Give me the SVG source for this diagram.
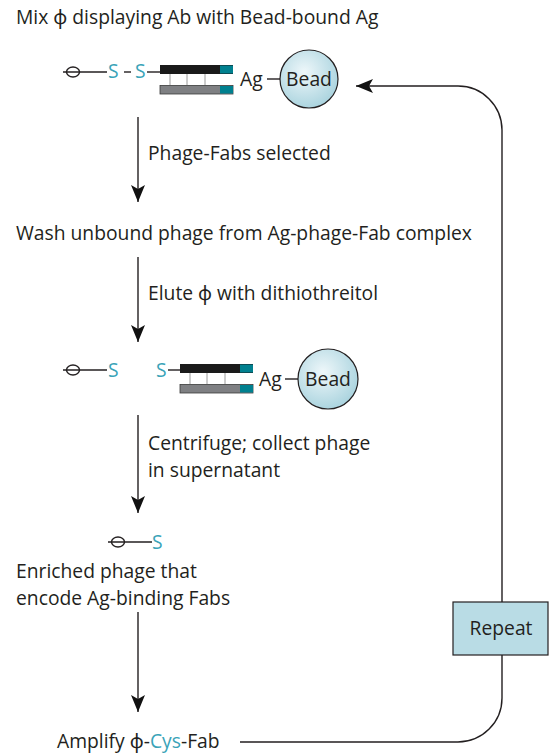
<svg xmlns="http://www.w3.org/2000/svg" width="551" height="754" viewBox="0 0 551 754">
  <style>
    .t { font-family: "Open Sans", "Noto Sans", "Liberation Sans", sans-serif; font-size: 19.3px; fill: #231f20; }
    .s { font-family: "Open Sans", "Noto Sans", "Liberation Sans", sans-serif; font-size: 19.3px; fill: #3aa3b8; }
    .ln { stroke: #231f20; stroke-width: 1.4; fill: none; }
    .hc { fill: #1a1a1a; }
    .lc { fill: #7f8083; stroke: #3a3a3a; stroke-width: 0.8; }
    .tip { fill: #00808f; }
    .tick { stroke: #9a9a9a; stroke-width: 1; }
    .bead { fill: url(#beadFill); stroke: #231f20; stroke-width: 1.2; }
  </style>
  <defs>
    <radialGradient id="beadFill" cx="0.42" cy="0.38" r="0.65">
      <stop offset="0" stop-color="#eef7fa"/>
      <stop offset="1" stop-color="#a9d3de"/>
    </radialGradient>
    <marker id="arrow" markerUnits="userSpaceOnUse" markerWidth="18" markerHeight="16" refX="17" refY="7" orient="auto" viewBox="0 0 18 14">
      <path d="M0,0 L17,7 L0,14 L4,7 Z" fill="#111"/>
    </marker>
    <!-- phage: filament with capsid ellipse -->
    <g id="phage">
      <line x1="0" y1="0" x2="44" y2="0" class="ln"/>
      <ellipse cx="10" cy="0" rx="6.5" ry="5" class="ln" stroke-width="1.6"/>
    </g>
    <!-- Fab: heavy and light chains with interchain ticks -->
    <g id="fab">
      <rect x="0" y="0" width="73" height="9" class="hc"/>
      <rect x="60" y="0.5" width="13" height="8" class="tip"/>
      <line x1="10" y1="9" x2="10" y2="20" class="tick"/>
      <line x1="27" y1="9" x2="27" y2="20" class="tick"/>
      <line x1="45" y1="9" x2="45" y2="20" class="tick"/>
      <rect x="0" y="20.5" width="73" height="8.5" class="lc"/>
      <rect x="60" y="21" width="13" height="7.5" class="tip"/>
    </g>
  </defs>

  <g id="connectors">
    <line x1="138" y1="117" x2="138" y2="202" class="ln" marker-end="url(#arrow)"/>
    <line x1="138" y1="257" x2="138" y2="342" class="ln" marker-end="url(#arrow)"/>
    <line x1="138" y1="415" x2="138" y2="513" class="ln" marker-end="url(#arrow)"/>
    <line x1="138" y1="612" x2="138" y2="712" class="ln" marker-end="url(#arrow)"/>
    <path d="M240,742 H458 A44,44 0 0 0 502,698 V130 A44,44 0 0 0 458,86 H356" class="ln" marker-end="url(#arrow)"/>
  </g>

  <g id="step-mix">
    <text x="16" y="24" class="t">Mix ϕ displaying Ab with Bead-bound Ag</text>
  </g>

  <g id="complex-bound">
    <use href="#phage" x="63" y="72"/>
    <text x="108" y="78" class="s">S</text>
    <line x1="124" y1="72" x2="131" y2="72" class="ln"/>
    <text x="135" y="78" class="s">S</text>
    <line x1="147" y1="72" x2="160" y2="72" class="ln"/>
    <use href="#fab" x="160" y="65"/>
    <text x="240" y="86" class="t">Ag</text>
    <line x1="267" y1="79" x2="280" y2="79" class="ln"/>
    <circle cx="309" cy="79" r="29" class="bead"/>
    <text x="309" y="86" class="t" text-anchor="middle">Bead</text>
  </g>

  <g id="label-selected">
    <text x="148" y="160" class="t">Phage-Fabs selected</text>
  </g>

  <g id="step-wash">
    <text x="16" y="240" class="t">Wash unbound phage from Ag-phage-Fab complex</text>
  </g>

  <g id="label-elute">
    <text x="148" y="300" class="t">Elute ϕ with dithiothreitol</text>
  </g>

  <g id="complex-cleaved">
    <use href="#phage" x="63" y="370"/>
    <text x="108" y="377" class="s">S</text>
    <text x="156" y="377" class="s">S</text>
    <line x1="168" y1="370" x2="180" y2="370" class="ln"/>
    <use href="#fab" x="180" y="364"/>
    <text x="259" y="386" class="t">Ag</text>
    <line x1="285" y1="379" x2="298" y2="379" class="ln"/>
    <circle cx="328" cy="379" r="30" class="bead"/>
    <text x="328" y="386" class="t" text-anchor="middle">Bead</text>
  </g>

  <g id="label-centrifuge">
    <text x="148" y="450" class="t">Centrifuge; collect phage</text>
    <text x="148" y="476.5" class="t">in supernatant</text>
  </g>

  <g id="phage-free">
    <use href="#phage" x="108" y="542"/>
    <text x="152" y="549" class="s">S</text>
  </g>

  <g id="step-enriched">
    <text x="16" y="578" class="t">Enriched phage that</text>
    <text x="16" y="604.5" class="t">encode Ag-binding Fabs</text>
  </g>

  <g id="repeat">
    <rect x="453" y="602" width="95" height="53" fill="#b9dce5" stroke="#231f20" stroke-width="1.2"/>
    <text x="501" y="635" class="t" text-anchor="middle">Repeat</text>
  </g>

  <g id="step-amplify">
    <text x="57" y="748" class="t">Amplify ϕ-<tspan fill="#3aa3b8">Cys</tspan>-Fab</text>
  </g>
</svg>
